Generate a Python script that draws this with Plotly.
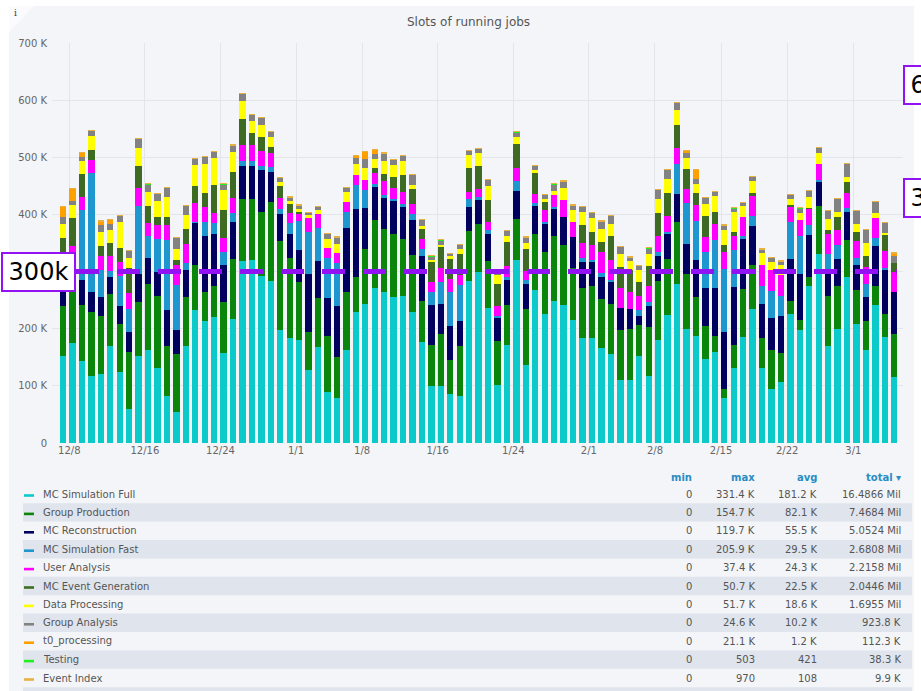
import plotly.graph_objects as go
import pandas as pd

# ---------------- data (values in K) ----------------
dates = pd.date_range("2020-12-07", periods=89, freq="D")

mc_sim_full = [152,175,144,118,121,170,125,60,152,163,131,82,54,170,233,214,220,157,217,318,
               320,292,283,198,184,181,127,168,89,79,163,230,244,272,265,255,257,230,176,100,
               99,85,82,284,300,236,102,172,321,136,268,226,249,241,216,183,183,166,156,111,
               111,152,117,181,224,278,200,187,147,160,79,131,185,235,131,95,107,226,197,275,
               331,170,200,290,208,163,241,185,115]
group_production = [87,90,98,111,102,91,83,100,95,115,126,87,102,85,79,51,55,90,105,109,
                    107,113,139,155,140,101,67,86,99,71,102,60,95,118,110,111,100,99,73,72,
                    92,61,88,87,83,83,76,70,71,98,98,109,113,106,91,89,91,86,87,87,
                    88,55,86,102,98,108,96,68,58,28,16,40,85,77,52,68,50,23,18,15,
                    83,87,75,66,59,50,34,41,76]
mc_reconstruction = [36,25,44,36,32,29,31,35,48,46,43,63,42,48,73,97,91,65,65,57,
                     58,72,53,48,42,56,102,64,66,90,111,120,72,58,54,57,56,62,79,70,
                     52,59,43,42,43,47,42,44,49,45,48,48,49,48,53,44,44,38,40,39,
                     35,16,36,45,44,50,53,65,66,83,100,102,87,67,61,56,66,73,81,74,
                     43,43,47,49,45,42,70,77,73]
mc_sim_fast = [30,45,121,207,48,11,53,40,119,38,57,124,78,12,2,24,19,23,16,10,
               9,8,8,8,19,51,73,58,70,75,28,42,32,5,5,4,5,10,12,22,
               38,59,63,14,4,7,2,4,18,7,6,4,2,0,0,8,3,7,3,0,
               0,9,8,6,4,53,71,68,63,84,110,64,6,19,30,47,34,64,66,18,
               4,31,24,6,12,23,13,3,0]
user_analysis = [17,9,23,24,24,27,24,27,33,23,25,26,36,33,33,27,18,24,26,28,
                 28,26,24,20,18,12,24,25,18,17,17,17,18,19,25,19,22,17,17,18,
                 25,23,18,13,15,13,17,19,22,15,16,21,21,31,26,26,25,37,35,35,
                 31,25,27,29,28,27,24,28,26,28,30,25,32,35,37,37,37,28,29,28,
                 28,35,27,26,29,30,36,30,36]
mc_event_generation = [36,50,41,17,17,22,25,44,37,29,14,13,8,26,29,25,48,49,46,45,
                       20,25,11,20,15,4,0,0,0,0,0,0,0,9,12,19,29,27,18,34,
                       38,35,37,41,40,40,39,42,42,38,36,13,0,0,0,32,23,18,41,36,
                       38,24,35,40,40,41,35,21,38,22,12,8,0,4,0,0,0,3,0,2,
                       0,6,23,20,16,20,0,29,15]
data_processing = [25,23,23,25,26,23,45,18,33,25,27,35,20,25,38,51,48,35,35,32,
                   22,20,17,8,6,5,6,6,15,16,19,20,20,16,22,22,24,7,4,4,
                   3,5,9,23,23,24,16,12,12,11,6,6,7,21,22,23,25,22,22,23,
                   15,22,22,24,24,25,20,16,20,28,26,34,19,22,21,14,18,10,12,19,
                   19,20,9,8,14,22,8,2,0]
group_analysis = [13,7,7,9,11,11,12,13,15,14,13,17,19,16,10,12,11,10,11,12,
                  11,13,10,7,6,6,4,6,9,12,7,11,16,9,14,9,10,17,12,7,
                  8,4,7,7,7,11,6,8,9,10,7,7,12,11,8,9,9,14,14,13,
                  7,7,10,16,16,13,8,9,11,7,8,7,6,7,7,7,6,7,8,10,
                  9,15,22,24,24,23,20,19,13]
t0_processing = [18,21,7,0,7,7,0,0,0,0,0,0,0,0,0,0,0,0,0,0,
                 0,0,0,0,0,0,0,0,0,0,0,3,13,7,0,0,0,0,0,0,
                 0,0,0,0,0,0,0,0,0,0,0,0,0,0,0,0,0,0,0,0,
                 0,0,0,0,0,0,5,16,0,0,0,0,0,0,0,0,0,0,0,0,
                 0,0,0,0,0,0,0,0,4]
testing = [0.42,0.42,0.43,0.42,0.41,0.42,0.42,0.43,0.42,0.42,0.41,0.42,0.42,0.42,0.43,0.42,0.42,0.42,0.41,0.42,
           0.42,0.42,0.42,0.43,0.42,0.42,0.42,0.41,0.42,0.42,0.42,0.42,0.43,0.42,0.42,0.42,0.42,0.41,0.42,0.42,
           0.42,0.42,0.42,0.43,0.42,0.42,0.42,0.41,0.42,0.42,0.42,0.42,0.42,0.43,0.42,0.42,0.42,0.42,0.41,0.42,
           0.42,0.42,0.42,0.42,0.50,0.42,0.42,0.42,0.41,0.42,0.42,0.42,0.42,0.43,0.42,0.42,0.42,0.42,0.41,0.42,
           0.42,0.42,0.42,0.42,0.43,0.42,0.42,0.42,0.42]
event_index = [0.1,0.1,0.1,0.1,0.1,0.1,0.1,0.1,0.1,0.1,0.1,0.1,0.1,0.1,0.1,0.1,0.1,0.1,0.1,0.1,
               0.1,0.1,0.1,0.1,0.1,0.1,0.1,0.1,0.1,0.1,0.1,0.1,0.1,0.1,0.1,0.1,0.1,0.1,0.1,0.1,
               0.1,0.1,0.1,0.1,0.1,0.1,0.1,0.1,0.1,0.1,0.97,0.1,0.1,0.1,0.1,0.1,0.1,0.1,0.1,0.1,
               0.1,0.1,0.1,0.1,0.1,0.1,0.1,0.1,0.1,0.1,0.1,0.1,0.1,0.1,0.1,0.1,0.1,0.1,0.1,0.1,
               0.1,0.1,0.1,0.1,0.1,0.1,0.1,0.1,0.1]

series_names = ["MC Simulation Full", "Group Production", "MC Reconstruction", "MC Simulation Fast",
                "User Analysis", "MC Event Generation", "Data Processing", "Group Analysis",
                "t0_processing", "Testing", "Event Index"]
series_values = [mc_sim_full, group_production, mc_reconstruction, mc_sim_fast, user_analysis,
                 mc_event_generation, data_processing, group_analysis, t0_processing, testing, event_index]
series_colors = ["#0dcaca", "#0a860a", "#00005e", "#1e96cf", "#ff00ff", "#3e6b23",
                 "#ffff00", "#828282", "#ffa000", "#22ee22", "#e8b040"]

stat_min = ["0", "0", "0", "0", "0", "0", "0", "0", "0", "0", "0"]
stat_max = ["331.4 K", "154.7 K", "119.7 K", "205.9 K", "37.4 K", "50.7 K", "51.7 K", "24.6 K", "21.1 K", "503", "970"]
stat_avg = ["181.2 K", "82.1 K", "55.5 K", "29.5 K", "24.3 K", "22.5 K", "18.6 K", "10.2 K", "1.2 K", "421", "108"]
stat_total = ["16.4866 Mil", "7.4684 Mil", "5.0524 Mil", "2.6808 Mil", "2.2158 Mil", "2.0446 Mil",
              "1.6955 Mil", "923.8 K", "112.3 K", "38.3 K", "9.9 K"]

tick_dates = ["2020-12-08", "2020-12-16", "2020-12-24", "2021-01-01", "2021-01-08", "2021-01-16",
              "2021-01-24", "2021-02-01", "2021-02-08", "2021-02-15", "2021-02-22", "2021-03-01"]
tick_text = ["12/8", "12/16", "12/24", "1/1", "1/8", "1/16", "1/24", "2/1", "2/8", "2/15", "2/22", "3/1"]
y_ticks = [0, 100, 200, 300, 400, 500, 600, 700]
y_text = ["0", "100 K", "200 K", "300 K", "400 K", "500 K", "600 K", "700 K"]

# ---------------- layout helpers ----------------
W, H = 921, 691
L, R, T, B = 52, 18, 43, 248
PW, PH = W - L - R, H - T - B
FONT = "DejaVu Sans"
PANEL = "#f4f5f8"
PURPLE = "#9212f4"


def px(x):
    return (x - L) / PW


def py(y):
    return (T + PH - y) / PH


fig = go.Figure()
DAY = 86400000
for name, vals, color in zip(series_names, series_values, series_colors):
    fig.add_trace(go.Bar(x=dates, y=vals, name=name, offset=0, width=0.67 * DAY,
                         marker=dict(color=color, line=dict(width=0))))

shapes = []
annotations = []

# panel background
shapes.append(dict(type="rect", xref="paper", yref="paper", layer="below",
                   x0=px(9), x1=px(914), y0=py(H + 5), y1=py(6),
                   fillcolor=PANEL, line=dict(width=0)))
# top-left corner triangle
shapes.append(dict(type="path", xref="paper", yref="paper", layer="below",
                   path=f"M {px(9)},{py(6)} L {px(34)},{py(6)} L {px(9)},{py(32)} Z",
                   fillcolor="#fbfbfd", line=dict(width=0)))
annotations.append(dict(text="i", xref="paper", yref="paper", x=px(15), y=py(13),
                        showarrow=False, font=dict(family="DejaVu Serif", size=9, color="#333"),
                        xanchor="center", yanchor="middle"))

# title
annotations.append(dict(text="Slots of running jobs", xref="paper", yref="paper",
                        x=px(468), y=py(22), showarrow=False,
                        font=dict(family=FONT, size=12, color="#555"),
                        xanchor="center", yanchor="middle"))

# legend table
ROW0 = 494.0
ROWH = 18.4
for k in range(12):
    yc = ROW0 + k * ROWH
    if k % 2 == 1:
        shapes.append(dict(type="rect", xref="paper", yref="paper", layer="below",
                           x0=px(23), x1=px(912), y0=py(yc + ROWH / 2), y1=py(yc - ROWH / 2),
                           fillcolor="#dfe4ed", line=dict(width=0)))
for k, name in enumerate(series_names):
    yc = ROW0 + k * ROWH
    shapes.append(dict(type="rect", xref="paper", yref="paper", layer="above",
                       x0=px(24), x1=px(34), y0=py(yc + 2.8), y1=py(yc + 0.2),
                       fillcolor=series_colors[k], line=dict(width=0)))
    annotations.append(dict(text=name, xref="paper", yref="paper", x=px(41), y=py(yc),
                            showarrow=False, xanchor="left", yanchor="middle",
                            font=dict(family=FONT, size=10, color="#555")))
    for col_x, vals in ((694, stat_min), (757, stat_max), (819, stat_avg), (903, stat_total)):
        annotations.append(dict(text=vals[k], xref="paper", yref="paper", x=px(col_x), y=py(yc),
                                showarrow=False, xanchor="right", yanchor="middle",
                                font=dict(family=FONT, size=10, color="#555")))
for col_x, hdr in ((694, "min"), (757, "max"), (819, "avg"), (903, "total ▾")):
    annotations.append(dict(text=f"<b>{hdr}</b>", xref="paper", yref="paper", x=px(col_x), y=py(477),
                            showarrow=False, xanchor="right", yanchor="middle",
                            font=dict(family=FONT, size=10, color="#2a8cc4")))

# threshold overlay
shapes.append(dict(type="line", xref="paper", yref="y", x0=px(76), x1=px(897), y0=300, y1=300,
                   line=dict(color=PURPLE, width=5, dash="23px,18px"), layer="above"))
annotations.append(dict(text="300k", xref="paper", yref="y", x=px(1), y=300,
                        xanchor="left", yanchor="middle", showarrow=False,
                        width=71, height=36, borderpad=0, borderwidth=2, bordercolor=PURPLE,
                        bgcolor="white", font=dict(family=FONT, size=24, color="black")))
for yc, txt in ((85.5, "600k"), (197.5, "350k")):
    annotations.append(dict(text=txt, xref="paper", yref="paper", x=px(903), y=py(yc),
                            xanchor="left", yanchor="middle", showarrow=False,
                            width=71, height=36, borderpad=0, borderwidth=2, bordercolor=PURPLE,
                            bgcolor="white", font=dict(family=FONT, size=24, color="black")))

fig.update_layout(
    width=W, height=H, autosize=False,
    margin=dict(l=L, r=R, t=T, b=B, pad=0),
    paper_bgcolor="white", plot_bgcolor="rgba(0,0,0,0)",
    barmode="stack", bargap=0, showlegend=False,
    font=dict(family=FONT, size=10, color="#666"),
    shapes=shapes, annotations=annotations,
    xaxis=dict(type="date", range=["2020-12-06 04:00", "2021-03-06 06:15"],
               tickvals=tick_dates, ticktext=tick_text, showgrid=True, gridcolor="#e3e5eb",
               gridwidth=1, zeroline=False, showline=False, ticks="",
               tickfont=dict(family=FONT, size=10, color="#666")),
    yaxis=dict(range=[0, 700], tickvals=y_ticks, ticktext=y_text, showgrid=True,
               gridcolor="#e3e5eb", gridwidth=1, zeroline=False, showline=False, ticks="",
               ticklabelstandoff=4,
               tickfont=dict(family=FONT, size=10, color="#666")),
)

fig.write_html("out.html",
               config={"displayModeBar": False},
               post_script="document.body.style.margin='0';document.body.style.padding='0';"
                           "document.body.style.overflow='hidden';")
